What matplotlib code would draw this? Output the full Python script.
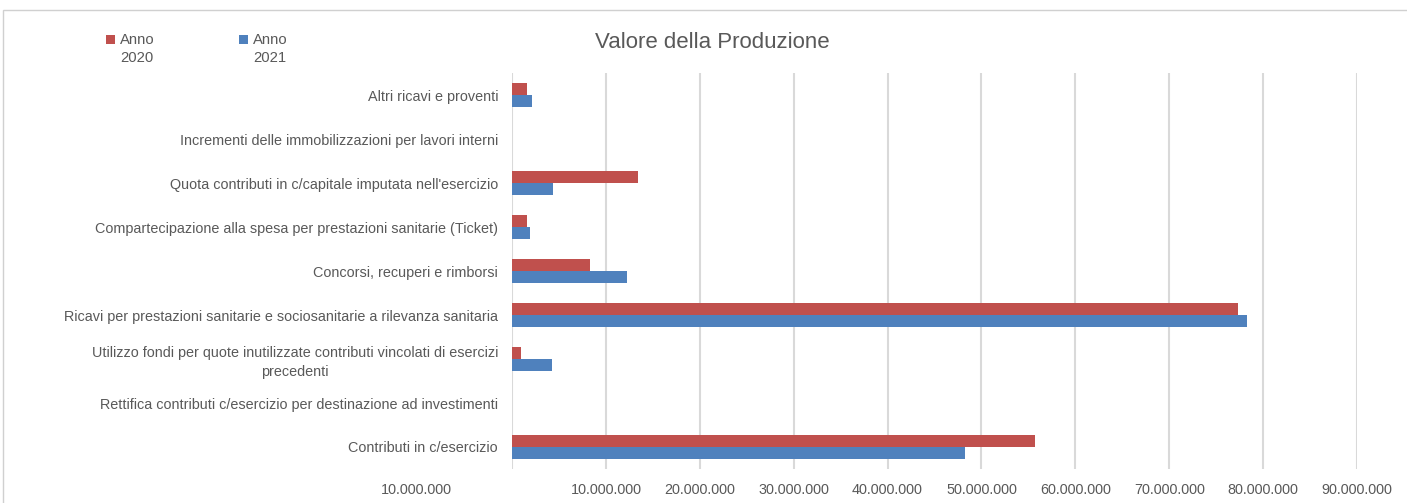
import matplotlib
matplotlib.use("Agg")
import matplotlib.pyplot as plt
from matplotlib.patches import Rectangle
from matplotlib.ticker import FuncFormatter
import numpy as np

plt.rcParams['font.family'] = ['Liberation Sans', 'DejaVu Sans']

categories = [
    "Contributi in c/esercizio",
    "Rettifica contributi c/esercizio per destinazione ad investimenti",
    "Utilizzo fondi per quote inutilizzate contributi vincolati di esercizi\nprecedenti",
    "Ricavi per prestazioni sanitarie e sociosanitarie a rilevanza sanitaria",
    "Concorsi, recuperi e rimborsi",
    "Compartecipazione alla spesa per prestazioni sanitarie (Ticket)",
    "Quota contributi in c/capitale imputata nell'esercizio",
    "Incrementi delle immobilizzazioni per lavori interni",
    "Altri ricavi e proventi",
]
anno_2020 = [55.7e6, 0, 0.95e6, 77.3e6, 8.3e6, 1.6e6, 13.4e6, 0, 1.6e6]
anno_2021 = [48.3e6, 0, 4.25e6, 78.3e6, 12.3e6, 1.9e6, 4.35e6, 0, 2.1e6]
series_labels = ["Anno\n2020", "Anno\n2021"]
x_ticks = [0, 10e6, 20e6, 30e6, 40e6, 50e6, 60e6, 70e6, 80e6, 90e6]

RED = "#C0504D"
BLUE = "#4F81BD"
TXT = "#595959"
GRID = "#D9D9D9"

W, H = 1407, 503
fig = plt.figure(figsize=(W / 100, H / 100), dpi=100)

# chart border (partially visible)
fig.patches.append(Rectangle((3 / W, -0.1), 1.2, (H - 10) / H + 0.1,
                             transform=fig.transFigure, fill=False,
                             edgecolor="#D0D0D0", linewidth=1.0))

ax_left, ax_right = 512 / W, 1357 / W
ax_bottom, ax_top = (H - 469) / H, (H - 73) / H
ax = fig.add_axes([ax_left, ax_bottom, ax_right - ax_left, ax_top - ax_bottom])

y = np.arange(len(categories))
h = 0.27
ax.barh(y + h / 2, anno_2020, height=h, color=RED, zorder=3)
ax.barh(y - h / 2, anno_2021, height=h, color=BLUE, zorder=3)

ax.set_ylim(-0.5, len(categories) - 0.5)
ax.set_xlim(0, 90e6)
ax.set_xticks(x_ticks)

def fmt(v, pos):
    if v == 0:
        return ""
    return f"{int(v):,}".replace(",", ".")

ax.xaxis.set_major_formatter(FuncFormatter(fmt))
ax.set_yticks(y)
ax.set_yticklabels(categories)
for lab in ax.get_yticklabels():
    lab.set_multialignment("center")
    lab.set_linespacing(1.45)

ax.tick_params(axis="x", length=0, pad=10, labelsize=10.4, labelcolor=TXT)
ax.tick_params(axis="y", length=0, pad=10, labelsize=10.4, labelcolor=TXT)
ax.grid(axis="x", color=GRID, linewidth=1.5, zorder=0)
for s in ["top", "right", "bottom", "left"]:
    ax.spines[s].set_visible(False)

# extra left label (negative side, sign not shown)
ax.annotate("10.000.000", xy=(-10.2e6, 0), xycoords=("data", "axes fraction"),
            xytext=(0, -10), textcoords="offset points", ha="center", va="top",
            fontsize=10.4, color=TXT, annotation_clip=False)

# title
fig.text(712 / W, 1 - 42 / H, "Valore della Produzione", ha="center", va="center",
         fontsize=16, color=TXT)

# legend
for x0, col, lab in [(106, RED, series_labels[0]), (239, BLUE, series_labels[1])]:
    fig.patches.append(Rectangle((x0 / W, 1 - 44 / H), 9 / W, 9 / H,
                                 transform=fig.transFigure, facecolor=col,
                                 edgecolor="none"))
    fig.text((x0 + 14) / W, 1 - 33 / H, lab, ha="left", va="top",
             fontsize=10.7, color=TXT, linespacing=1.4)

fig.savefig("out.png", dpi=100)
